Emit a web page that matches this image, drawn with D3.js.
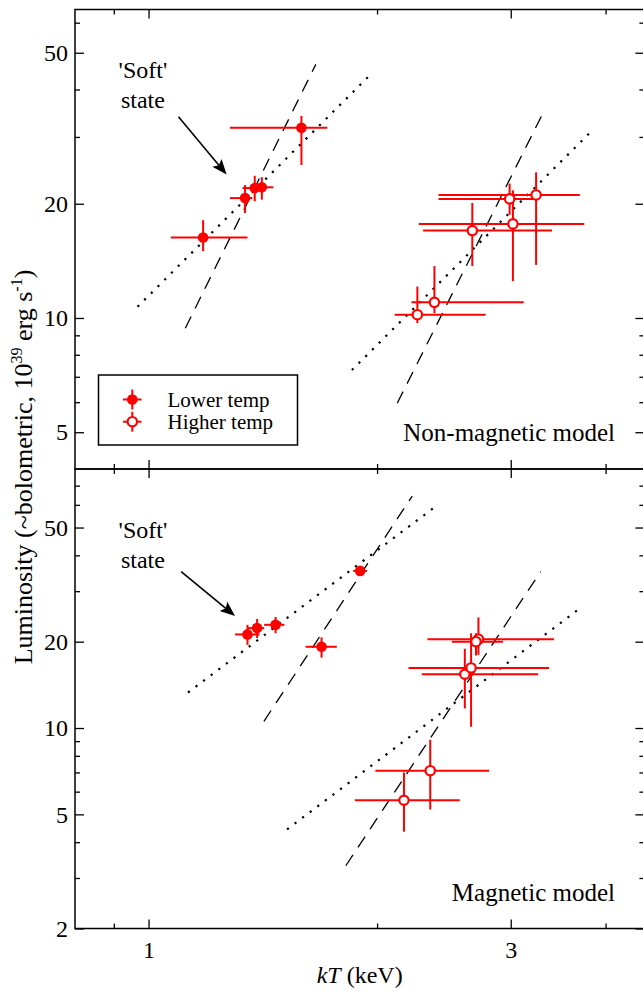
<!DOCTYPE html>
<html>
<head>
<meta charset="utf-8">
<script src="https://cdn.jsdelivr.net/npm/d3@7"></script>
<style>
  body { margin: 0; background: #fff; }
  svg text { font-family: "Liberation Serif", "Times New Roman", serif; }
</style>
</head>
<body>
<svg id="chart" width="643" height="991"></svg>
<script>
// each row: [kT, kT low, kT high, L, L low, L high]  (keV, 1e39 erg/s)
var nonMagLower = [
  [1.18, 1.07, 1.35, 16.3, 15.0, 18.1],
  [1.34, 1.28, 1.37, 20.7, 18.9, 22.4],
  [1.38, 1.33, 1.42, 22.0, 20.3, 23.7],
  [1.41, 1.36, 1.46, 22.1, 20.5, 23.5],
  [1.59, 1.28, 1.72, 31.7, 25.3, 34.1]
];
var nonMagHigher = [
  [2.26, 2.11, 2.78, 10.2, 9.7, 12.1],
  [2.38, 2.22, 3.12, 11.0, 10.3, 13.7],
  [2.67, 2.30, 3.40, 17.0, 13.7, 20.1],
  [2.99, 2.41, 3.22, 20.6, 18.7, 22.6],
  [3.02, 2.27, 3.75, 17.7, 12.5, 21.7],
  [3.24, 2.41, 3.70, 21.1, 13.8, 24.2]
];
var magLower = [
  [1.35, 1.30, 1.40, 21.2, 19.5, 22.9],
  [1.39, 1.35, 1.42, 22.3, 20.6, 24.0],
  [1.47, 1.42, 1.51, 22.9, 21.4, 24.4],
  [1.69, 1.61, 1.77, 19.2, 17.6, 20.7],
  [1.90, 1.86, 1.94, 35.3, 34.2, 36.5]
];
var magHigher = [
  [2.17, 1.87, 2.57, 5.6, 4.35, 7.0],
  [2.35, 1.99, 2.81, 7.1, 5.2, 9.1],
  [2.61, 2.29, 3.26, 15.4, 11.7, 18.9],
  [2.66, 2.20, 3.37, 16.2, 10.1, 21.4],
  [2.72, 2.33, 3.42, 20.4, 18.0, 24.3],
  [2.70, 2.51, 2.93, 20.0, 17.9, 21.4]
];

// power-law guide lines, end points [kT, L]
var nonMagDotted = [[[0.967, 10.7], [1.965, 44.0]], [[1.853, 7.29], [3.847, 31.3]]];
var nonMagDashed = [[[1.118, 9.4], [1.661, 46.6]], [[2.126, 5.96], [3.314, 34.9]]];
var magDotted = [[[1.127, 13.3], [2.392, 59.4]], [[1.522, 4.43], [3.697, 26.1]]];
var magDashed = [[[1.419, 10.55], [2.225, 64.4]], [[1.819, 3.31], [3.285, 35.1]]];

var xMajor = [1, 3];
var xMinor = [0.9, 2, 4];
var topMajor = [5, 10, 20, 50];
var topMinor = [6, 7, 8, 9, 30, 40, 60];
var botMajor = [2, 5, 10, 20, 50];
var botMinor = [3, 4, 6, 7, 8, 9, 30, 40, 60, 70];

var svg = d3.select("#chart");
var xLeft = 75, xRight = 644.4;
var x = d3.scaleLog().domain([0.8, 4.5]).range([xLeft, xRight]);

var panels = [
  {yDomain: [4, 65], top: 9.5, bottom: 469, lower: nonMagLower, higher: nonMagHigher,
   dotted: nonMagDotted, dashed: nonMagDashed, major: topMajor, minor: topMinor,
   title: "Non-magnetic model", soft: [0.983, 42.8, 35.7], arrow: [[1.095, 33.9], [1.267, 23.9]], xLabels: false},
  {yDomain: [2, 80], top: 469, bottom: 928.5, lower: magLower, higher: magHigher,
   dotted: magDotted, dashed: magDashed, major: botMajor, minor: botMinor,
   title: "Magnetic model", soft: [0.983, 45.8, 36.1], arrow: [[1.104, 35.1], [1.300, 24.6]], xLabels: true}
];

function noLabel() { return ""; }

function drawArrow(g, x1, y1, x2, y2) {
  var dx = x2 - x1, dy = y2 - y1, len = Math.sqrt(dx * dx + dy * dy);
  var ux = dx / len, uy = dy / len, hl = 15, hw = 6;
  g.append("line").attr("x1", x1).attr("y1", y1)
    .attr("x2", x2 - ux * hl * 0.8).attr("y2", y2 - uy * hl * 0.8)
    .attr("stroke", "#000").attr("stroke-width", 1.6);
  var bx = x2 - ux * hl, by = y2 - uy * hl;
  g.append("path")
    .attr("d", "M" + x2 + "," + y2 + "L" + (bx - uy * hw) + "," + (by + ux * hw) +
      "L" + (bx + ux * 3) + "," + (by + uy * 3) + "L" + (bx + uy * hw) + "," + (by - ux * hw) + "Z")
    .attr("fill", "#000");
}

function drawPanel(p) {
  var y = d3.scaleLog().domain(p.yDomain).range([p.bottom, p.top]);
  var g = svg.append("g");
  var line = d3.line().x(function(d) { return x(d[0]); }).y(function(d) { return y(d[1]); });

  g.selectAll("path.dotted").data(p.dotted).join("path")
    .attr("class", "dotted").attr("d", line)
    .attr("fill", "none").attr("stroke", "#000").attr("stroke-width", 2.2)
    .attr("stroke-dasharray", "2.2,7.3");
  g.selectAll("path.dashed").data(p.dashed).join("path")
    .attr("class", "dashed").attr("d", line)
    .attr("fill", "none").attr("stroke", "#000").attr("stroke-width", 1.3)
    .attr("stroke-dasharray", "13,9");

  var pts = p.lower.map(function(r) { return {r: r, open: false}; })
    .concat(p.higher.map(function(r) { return {r: r, open: true}; }));

  g.selectAll("line.xerr").data(pts).join("line")
    .attr("class", "xerr")
    .attr("x1", function(d) { return x(d.r[1]); })
    .attr("x2", function(d) { return x(d.r[2]); })
    .attr("y1", function(d) { return y(d.r[3]); })
    .attr("y2", function(d) { return y(d.r[3]); })
    .attr("stroke", "red").attr("stroke-width", 2);
  g.selectAll("line.yerr").data(pts).join("line")
    .attr("class", "yerr")
    .attr("x1", function(d) { return x(d.r[0]); })
    .attr("x2", function(d) { return x(d.r[0]); })
    .attr("y1", function(d) { return y(d.r[4]); })
    .attr("y2", function(d) { return y(d.r[5]); })
    .attr("stroke", "red").attr("stroke-width", 2);
  g.selectAll("circle.pt").data(pts).join("circle")
    .attr("class", "pt")
    .attr("cx", function(d) { return x(d.r[0]); })
    .attr("cy", function(d) { return y(d.r[3]); })
    .attr("r", function(d) { return d.open ? 4.7 : 5.3; })
    .attr("fill", function(d) { return d.open ? "#fff" : "red"; })
    .attr("stroke", "red")
    .attr("stroke-width", function(d) { return d.open ? 2.2 : 0; });

  // axes, ticks pointing inward on all four sides
  function axis(fn, scale, transform, values, size, labels, pad) {
    var a = g.append("g").attr("transform", transform)
      .call(fn(scale).tickValues(values).tickSize(size).tickPadding(pad || 7)
        .tickFormat(labels ? d3.format("d") : noLabel));
    a.select(".domain").remove();
    a.attr("font-size", 24).attr("font-family", null);
    a.selectAll("line").attr("stroke-width", 1.3);
    a.selectAll("text").attr("fill", "#000");
  }
  axis(d3.axisLeft, y, "translate(" + xLeft + ",0)", p.major, -9, true);
  axis(d3.axisLeft, y, "translate(" + xLeft + ",0)", p.minor, -5, false);
  axis(d3.axisRight, y, "translate(" + xRight + ",0)", p.major, -9, false);
  axis(d3.axisRight, y, "translate(" + xRight + ",0)", p.minor, -5, false);
  axis(d3.axisBottom, x, "translate(0," + p.bottom + ")", xMajor, -9, p.xLabels, 12);
  axis(d3.axisBottom, x, "translate(0," + p.bottom + ")", xMinor, -5, false);
  axis(d3.axisTop, x, "translate(0," + p.top + ")", xMajor, -9, false);
  axis(d3.axisTop, x, "translate(0," + p.top + ")", xMinor, -5, false);

  g.append("rect")
    .attr("x", xLeft).attr("y", p.top)
    .attr("width", xRight - xLeft).attr("height", p.bottom - p.top)
    .attr("fill", "none").attr("stroke", "#000").attr("stroke-width", 1.5);

  // 'Soft' state annotation
  g.append("text").attr("x", x(p.soft[0])).attr("y", y(p.soft[1]))
    .attr("text-anchor", "middle").attr("font-size", 24).text("'Soft'");
  g.append("text").attr("x", x(p.soft[0])).attr("y", y(p.soft[2]))
    .attr("text-anchor", "middle").attr("font-size", 24).text("state");
  drawArrow(g, x(p.arrow[0][0]), y(p.arrow[0][1]), x(p.arrow[1][0]), y(p.arrow[1][1]));

  g.append("text").attr("x", 615).attr("y", p.bottom - 28)
    .attr("text-anchor", "end").attr("font-size", 25).text(p.title);
}

panels.forEach(drawPanel);

// legend
var leg = svg.append("g");
leg.append("rect").attr("x", 98.5).attr("y", 375).attr("width", 199).attr("height", 70)
  .attr("fill", "none").attr("stroke", "#000").attr("stroke-width", 1.5);
var legItems = [{name: "Lower temp", open: false, cy: 399.5}, {name: "Higher temp", open: true, cy: 421.7}];
legItems.forEach(function(it) {
  leg.append("line").attr("x1", 123).attr("x2", 141.5).attr("y1", it.cy).attr("y2", it.cy)
    .attr("stroke", "red").attr("stroke-width", 2);
  leg.append("line").attr("x1", 132.3).attr("x2", 132.3).attr("y1", it.cy - 10).attr("y2", it.cy + 10)
    .attr("stroke", "red").attr("stroke-width", 2);
  leg.append("circle").attr("cx", 132.3).attr("cy", it.cy).attr("r", it.open ? 4.7 : 5.3)
    .attr("fill", it.open ? "#fff" : "red").attr("stroke", "red").attr("stroke-width", it.open ? 2.2 : 0);
  leg.append("text").attr("x", 167.5).attr("y", it.cy + 7).attr("font-size", 21).text(it.name);
});

// axis titles
var yl = svg.append("text").attr("transform", "translate(32,467) rotate(-90)")
  .attr("text-anchor", "middle").attr("font-size", 26);
yl.append("tspan").text("Luminosity (~bolometric, 10");
yl.append("tspan").attr("font-size", 16).attr("dy", -10).text("39");
yl.append("tspan").attr("dy", 10).text(" erg s");
yl.append("tspan").attr("font-size", 16).attr("dy", -10).text("-1");
yl.append("tspan").attr("dy", 10).text(")");

var xl = svg.append("text").attr("x", (xLeft + xRight) / 2).attr("y", 983)
  .attr("text-anchor", "middle").attr("font-size", 24);
xl.append("tspan").attr("font-style", "italic").text("kT");
xl.append("tspan").text(" (keV)");
</script>
</body>
</html>
